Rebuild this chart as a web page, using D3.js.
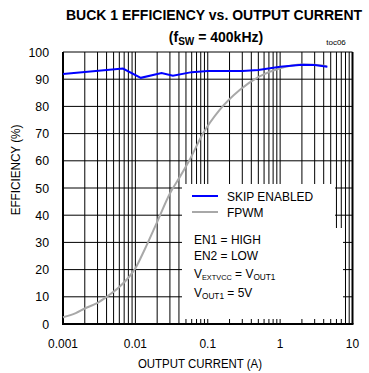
<!DOCTYPE html>
<html>
<head>
<meta charset="utf-8">
<script src="https://cdn.jsdelivr.net/npm/d3@7"></script>
<style>
  body { margin: 0; background: #fff; }
  svg { display: block; }
  text { font-family: "Liberation Sans Narrow", "Arial Narrow", "Liberation Sans", Arial, sans-serif; }
</style>
</head>
<body>
<svg id="chart" width="369" height="373"></svg>
<script>
// skip enabled curve (blue)
const skipCurrent = [0.001, 0.00673, 0.0119, 0.023, 0.033, 0.06, 0.1, 0.3, 0.5, 1, 2, 3, 4.5];
const skipEff = [91.9, 93.9, 90.5, 92.3, 91.3, 92.6, 93, 93, 93.4, 94.6, 95.3, 95.2, 94.6];

// forced PWM curve (gray)
const fpwmCurrent = [0.001, 0.0015, 0.002, 0.003, 0.004, 0.006, 0.008, 0.01, 0.0135, 0.0196, 0.03, 0.041, 0.0565, 0.086, 0.146, 0.276, 0.52, 1, 2, 3, 4.4];
const fpwmEff = [2.5, 4, 5.7, 7.8, 10, 13.6, 17, 20.5, 27.5, 37, 48, 54, 60.5, 70, 78.7, 86, 91, 94, 95.4, 95.3, 94.8];

const xTicks = [0.001, 0.01, 0.1, 1, 10];
const xTickLabels = ["0.001", "0.01", "0.1", "1", "10"];
const yTicks = [0, 10, 20, 30, 40, 50, 60, 70, 80, 90, 100];

const svg = d3.select("#chart");
const plotL = 63, plotR = 352.5, plotT = 52, plotB = 324;

const x = d3.scaleLog().domain([0.001, 10]).range([plotL, plotR]);
const y = d3.scaleLinear().domain([0, 100]).range([plotB, plotT]);

// text squeezed horizontally to look like a narrow face
function narrowText(parent, px, py, sx, size) {
  return parent.append("g")
    .attr("transform", "translate(" + px + "," + py + ") scale(" + sx + ",1)")
    .append("text").attr("font-size", size);
}

// grid
const g = svg.append("g");
g.selectAll(".vgrid")
  .data(x.ticks())
  .enter().append("line")
  .attr("class", "vgrid")
  .attr("x1", d => x(d)).attr("x2", d => x(d))
  .attr("y1", plotT).attr("y2", plotB)
  .attr("stroke", "#000").attr("stroke-width", 1);

g.selectAll(".hgrid")
  .data(yTicks)
  .enter().append("line")
  .attr("class", "hgrid")
  .attr("x1", plotL).attr("x2", plotR)
  .attr("y1", d => y(d)).attr("y2", d => y(d))
  .attr("stroke", "#000").attr("stroke-width", 1);

// frame
svg.append("line").attr("x1", plotL).attr("x2", plotL).attr("y1", plotT).attr("y2", plotB + 1)
  .attr("stroke", "#000").attr("stroke-width", 2);
svg.append("line").attr("x1", plotL - 1).attr("x2", plotR + 1).attr("y1", plotB).attr("y2", plotB)
  .attr("stroke", "#000").attr("stroke-width", 2);
svg.append("line").attr("x1", plotR).attr("x2", plotR).attr("y1", plotT).attr("y2", plotB)
  .attr("stroke", "#000").attr("stroke-width", 2);

// curves
const fpwmLine = d3.line()
  .x(d => x(d[0])).y(d => y(d[1]))
  .curve(d3.curveMonotoneX);
const skipLine = d3.line()
  .x(d => x(d[0])).y(d => y(d[1]));

svg.append("path")
  .datum(fpwmCurrent.map((c, i) => [c, fpwmEff[i]]))
  .attr("d", fpwmLine)
  .attr("fill", "none").attr("stroke", "#a8a8a8").attr("stroke-width", 2);

svg.append("path")
  .datum(skipCurrent.map((c, i) => [c, skipEff[i]]))
  .attr("d", skipLine)
  .attr("fill", "none").attr("stroke", "#0000ff").attr("stroke-width", 2);

// legend / notes box
svg.append("rect").attr("x", 182).attr("y", 184).attr("width", 153).attr("height", 46).attr("fill", "#fff");
svg.append("rect").attr("x", 182).attr("y", 228).attr("width", 161).attr("height", 91).attr("fill", "#fff");

svg.append("line").attr("x1", 192).attr("x2", 218).attr("y1", 196).attr("y2", 196)
  .attr("stroke", "#0000ff").attr("stroke-width", 2);
svg.append("line").attr("x1", 192).attr("x2", 218).attr("y1", 212).attr("y2", 212)
  .attr("stroke", "#a8a8a8").attr("stroke-width", 2);
narrowText(svg, 227, 201, 0.92, 13).text("SKIP ENABLED");
narrowText(svg, 227, 217, 0.92, 13).text("FPWM");

narrowText(svg, 194, 244, 0.92, 13).text("EN1 = HIGH");
narrowText(svg, 194, 260, 0.92, 13).text("EN2 = LOW");
const n3 = narrowText(svg, 194, 278, 0.92, 13);
n3.append("tspan").text("V");
n3.append("tspan").attr("font-size", 8).attr("dy", 2).text("EXTVCC");
n3.append("tspan").attr("dy", -2).text(" = V");
n3.append("tspan").attr("font-size", 9).attr("dy", 2).text("OUT1");
const n4 = narrowText(svg, 194, 297, 0.92, 13);
n4.append("tspan").text("V");
n4.append("tspan").attr("font-size", 9).attr("dy", 2).text("OUT1");
n4.append("tspan").attr("dy", -2).text(" = 5V");

// tick labels
yTicks.forEach(d => {
  narrowText(svg, 49, y(d), 0.95, 13)
    .attr("dy", "0.35em").attr("text-anchor", "end").text(d);
});
xTicks.forEach((d, i) => {
  narrowText(svg, x(d), 343, 0.92, 13)
    .attr("dy", "0.35em").attr("text-anchor", "middle").text(xTickLabels[i]);
});

// axis titles
narrowText(svg, 200, 363, 0.88, 13)
  .attr("dy", "0.35em").attr("text-anchor", "middle")
  .text("OUTPUT CURRENT (A)");
svg.append("g")
  .attr("transform", "translate(15,170) rotate(-90) scale(0.9,1)")
  .append("text")
  .attr("dy", "0.35em")
  .attr("text-anchor", "middle").attr("font-size", 13)
  .text("EFFICIENCY (%)");

// title
svg.append("text")
  .attr("x", 214).attr("y", 15).attr("dy", "0.35em")
  .attr("text-anchor", "middle").attr("font-size", 14).attr("font-weight", "bold")
  .text("BUCK 1 EFFICIENCY vs. OUTPUT CURRENT");
const t2 = svg.append("text")
  .attr("x", 216).attr("y", 37).attr("dy", "0.35em")
  .attr("text-anchor", "middle").attr("font-size", 14).attr("font-weight", "bold");
t2.append("tspan").text("(f");
t2.append("tspan").attr("font-size", 10).attr("dy", 3).text("SW");
t2.append("tspan").attr("dy", -3).text(" = 400kHz)");
svg.append("text")
  .attr("x", 336).attr("y", 42).attr("dy", "0.35em")
  .attr("text-anchor", "middle").attr("font-size", 8)
  .text("toc06");
</script>
</body>
</html>
